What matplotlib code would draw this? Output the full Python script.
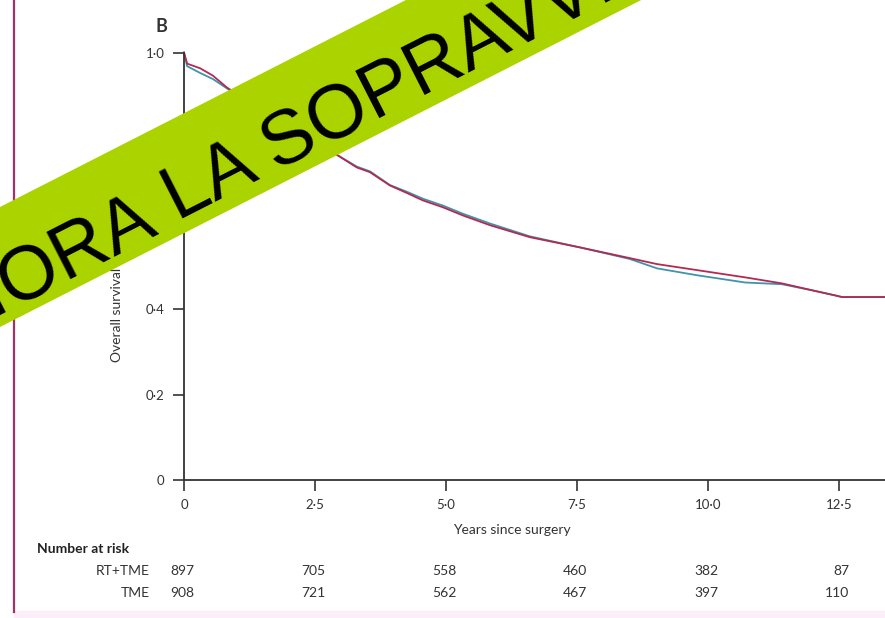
import numpy as np
import matplotlib
matplotlib.use("Agg")
import matplotlib.pyplot as plt
from matplotlib.patches import Polygon, Rectangle
from matplotlib.transforms import blended_transform_factory

# survival curves (years, proportion alive)
years = [0, 0.06, 0.31, 0.55, 0.82, 1.45, 2.21, 2.94, 3.30, 3.55, 3.93, 4.26,
         4.56, 4.94, 5.32, 5.84, 6.60, 7.56, 8.51, 9.03, 9.79, 10.71, 11.41,
         11.98, 12.42, 12.56, 13.4]
surv_rt_tme = [1.0, 0.974, 0.963, 0.946, 0.918, 0.869, 0.811, 0.759, 0.731,
               0.720, 0.689, 0.671, 0.654, 0.638, 0.619, 0.596, 0.568, 0.544,
               0.519, 0.505, 0.491, 0.474, 0.460, 0.444, 0.432, 0.428, 0.428]
surv_tme = [1.0, 0.968, 0.952, 0.938, 0.916, 0.868, 0.810, 0.759, 0.733,
            0.722, 0.690, 0.674, 0.658, 0.642, 0.623, 0.600, 0.570, 0.544,
            0.517, 0.495, 0.479, 0.462, 0.458, 0.444, 0.432, 0.428, 0.428]

xticks = [0, 2.5, 5.0, 7.5, 10.0, 12.5]
xtick_labels = ["0", "2\u00b75", "5\u00b70", "7\u00b75", "10\u00b70", "12\u00b75"]
yticks = [0, 0.2, 0.4, 0.6, 0.8, 1.0]
ytick_labels = ["0", "0\u00b72", "0\u00b74", "0\u00b76", "0\u00b78", "1\u00b70"]

risk_groups = ["RT+TME", "TME"]
risk_rt_tme = [897, 705, 558, 460, 382, 87]
risk_tme = [908, 721, 562, 467, 397, 110]

W, H = 885, 618
plt.rcParams['font.family'] = ['Lato', 'DejaVu Sans']

def px(x, y):
    # pixel position -> figure fraction
    return x / W, 1 - y / H

fig = plt.figure(figsize=(W / 100, H / 100), dpi=100)
ax = fig.add_axes([184 / W, 1 - 480 / H, (W - 184) / W, (480 - 52.5) / H])

red = "#b22a52"
teal = "#3f93aa"
ax.plot(years, surv_tme, color=teal, lw=1.3, clip_on=False)
ax.plot(years, surv_rt_tme, color=red, lw=1.3, clip_on=False)

ax.set_xlim(0, 13.38)
ax.set_ylim(0, 1.0)
for s in ["top", "right"]:
    ax.spines[s].set_visible(False)
for s in ["left", "bottom"]:
    ax.spines[s].set_color("#333333")
    ax.spines[s].set_linewidth(1.3)

ax.set_xticks(xticks)
ax.set_xticklabels(xtick_labels)
ax.set_yticks(yticks)
ax.set_yticklabels(ytick_labels)
ax.tick_params(direction="out", length=8, width=1.2, color="#333333",
               labelsize=9.5, labelcolor="#333333", pad=6)

ax.text(6.25, -0.118, "Years since surgery", transform=ax.transData,
        ha="center", va="center", fontsize=10, color="#333333")
fig.text(*px(117, 362), "Overall survival", rotation=90, ha="center",
         va="bottom", fontsize=10, color="#333333")
fig.text(*px(161, 27), "B", ha="center", va="center", fontsize=13,
         fontweight="bold", color="#333333")

# number at risk table
fig.text(*px(37, 549), "Number at risk", ha="left", va="center",
         fontsize=10, fontweight="bold", color="#222222")
trans = blended_transform_factory(ax.transData, fig.transFigure)
for row, (name, counts) in enumerate(zip(risk_groups, [risk_rt_tme, risk_tme])):
    yy = 1 - (571 + 22 * row) / H
    fig.text(150 / W, yy, name, ha="right", va="center", fontsize=10,
             color="#333333")
    for t, n in zip(xticks, counts):
        ax.text(t + 0.2, yy, str(n), transform=trans, ha="right",
                va="center", fontsize=10, color="#333333")

# page frame bits
fig.add_artist(plt.Line2D([14 / W, 14 / W], [1 - 612 / H, 1], color="#9c3468",
                          lw=1.6, transform=fig.transFigure))
fig.patches.append(Rectangle(px(14, 618), (W - 14) / W, 7 / H,
                             transform=fig.transFigure, color="#fbeef8",
                             zorder=0))

# green banner across the chart
slope = 0.51
band = [px(-10, 207 + 10 * slope), px(700, 207 - 700 * slope),
        px(700, 327 - 700 * slope), px(-10, 327 + 10 * slope)]
fig.patches.append(Polygon(band, closed=True, transform=fig.transFigure,
                           facecolor="#aad300", edgecolor="none", zorder=5))
ang = np.degrees(np.arctan(slope))
base = lambda x: 312 - slope * x
fig.text(*px(160, base(160)), "MIGLIORA", rotation=ang, rotation_mode="anchor",
         ha="right", va="baseline", fontsize=55, family="Liberation Sans",
         color="black", zorder=6)
fig.text(*px(178, base(178)), "LA SOPRAVVIVENZA", rotation=ang,
         rotation_mode="anchor", ha="left", va="baseline", fontsize=55,
         family="Liberation Sans", color="black", zorder=6)

fig.savefig("out.png", dpi=100)
